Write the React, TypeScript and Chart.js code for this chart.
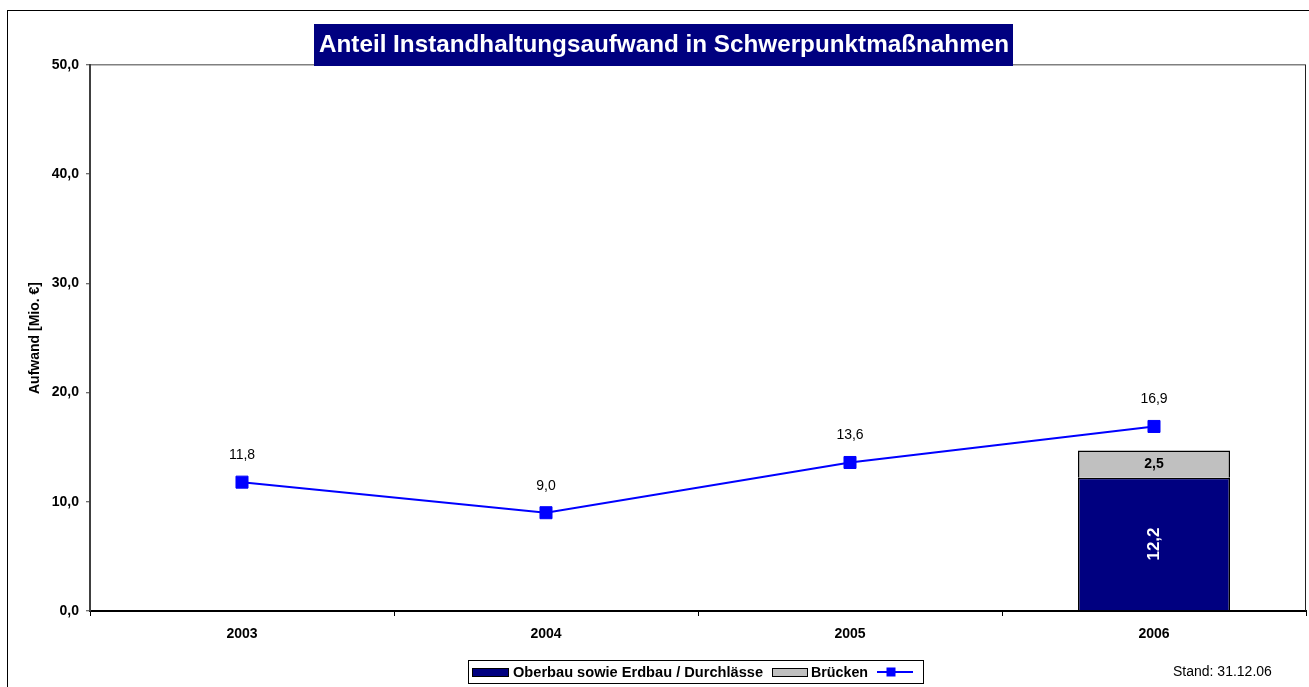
import React, { useEffect, useRef } from "react";
import { Chart, registerables } from "chart.js";

Chart.register(...registerables);

const categories = ["2003", "2004", "2005", "2006"];
const oberbauValues = [null, null, null, 12.2];
const brueckenValues = [null, null, null, 2.5];
const gesamtValues = [11.8, 9.0, 13.6, 16.9];
const yTickValues = [0, 10, 20, 30, 40, 50];

const titleText = "Anteil Instandhaltungsaufwand in Schwerpunktmaßnahmen";
const yAxisTitle = "Aufwand [Mio. €]";
const legendLabels = ["Oberbau sowie Erdbau / Durchlässe", "Brücken"];
const standText = "Stand: 31.12.06";

const FONT = '"Liberation Sans", Arial, Helvetica, sans-serif';
const NAVY = "#000080";
const GRAY = "#C0C0C0";
const BLUE = "#0000FF";

const fmt = (v: number) => v.toFixed(1).replace(".", ",");

function fitText(ctx: any, text: string, x: number, y: number, target: number) {
  const w = ctx.measureText(text).width;
  ctx.save();
  ctx.translate(x, y);
  ctx.scale(target / w, 1);
  ctx.fillText(text, 0, 0);
  ctx.restore();
}

const decorPlugin = {
  id: "decor",
  afterDatasetsDraw(chart: any) {
    const ctx = chart.ctx;
    ctx.save();
    const lineMeta = chart.getDatasetMeta(2);
    ctx.font = `14px ${FONT}`;
    ctx.fillStyle = "#000";
    ctx.textAlign = "center";
    ctx.textBaseline = "middle";
    lineMeta.data.forEach((pt: any, i: number) => {
      const v = gesamtValues[i];
      if (v == null) return;
      ctx.fillText(fmt(v), pt.x, pt.y - 27);
    });
    const m0 = chart.getDatasetMeta(0);
    m0.data.forEach((bar: any, i: number) => {
      const v = oberbauValues[i];
      if (v == null) return;
      const cy = (bar.y + bar.base) / 2;
      ctx.save();
      ctx.translate(bar.x, cy);
      ctx.rotate(-Math.PI / 2);
      ctx.font = `bold 17px ${FONT}`;
      ctx.fillStyle = "#fff";
      ctx.fillText(fmt(v), 0, 0);
      ctx.restore();
    });
    const m1 = chart.getDatasetMeta(1);
    m1.data.forEach((bar: any, i: number) => {
      const v = brueckenValues[i];
      if (v == null) return;
      const cy = (bar.y + bar.base) / 2;
      ctx.font = `bold 14px ${FONT}`;
      ctx.fillStyle = "#000";
      ctx.fillText(fmt(v), bar.x, cy);
    });
    ctx.restore();
  },
  afterDraw(chart: any) {
    const ctx = chart.ctx;
    const area = chart.chartArea;
    ctx.save();
    ctx.strokeStyle = "#000";
    ctx.lineWidth = 1;
    ctx.strokeRect(7.5, 10.5, 1400, 800);
    ctx.strokeStyle = "#202020";
    ctx.beginPath();
    ctx.moveTo(Math.round(area.right) - 0.5, area.top);
    ctx.lineTo(Math.round(area.right) - 0.5, area.bottom);
    ctx.stroke();

    // title box
    ctx.fillStyle = NAVY;
    ctx.fillRect(314, 24, 699, 42);
    ctx.font = `bold 24px ${FONT}`;
    ctx.fillStyle = "#fff";
    ctx.textAlign = "left";
    ctx.textBaseline = "middle";
    fitText(ctx, titleText, 319, 45, 690);

    // y axis title
    ctx.save();
    ctx.translate(35, (area.top + area.bottom) / 2);
    ctx.rotate(-Math.PI / 2);
    ctx.font = `bold 14px ${FONT}`;
    ctx.fillStyle = "#000";
    ctx.textAlign = "center";
    ctx.textBaseline = "middle";
    ctx.fillText(yAxisTitle, 0, 0);
    ctx.restore();

    // legend
    ctx.strokeStyle = "#000";
    ctx.lineWidth = 1;
    ctx.strokeRect(468.5, 660.5, 455, 23);
    ctx.fillStyle = NAVY;
    ctx.fillRect(472.5, 668.5, 36, 8);
    ctx.strokeRect(472.5, 668.5, 36, 8);
    ctx.font = `bold 14.6px ${FONT}`;
    ctx.fillStyle = "#000";
    ctx.textAlign = "left";
    ctx.textBaseline = "middle";
    fitText(ctx, legendLabels[0], 513, 673, 250);
    ctx.fillStyle = GRAY;
    ctx.fillRect(772.5, 668.5, 35, 8);
    ctx.strokeRect(772.5, 668.5, 35, 8);
    ctx.fillStyle = "#000";
    fitText(ctx, legendLabels[1], 811, 673, 57);
    ctx.strokeStyle = BLUE;
    ctx.lineWidth = 2;
    ctx.beginPath();
    ctx.moveTo(877, 672);
    ctx.lineTo(913, 672);
    ctx.stroke();
    ctx.fillStyle = BLUE;
    ctx.fillRect(891 - 4.5, 672 - 4.5, 9, 9);

    ctx.font = `14px ${FONT}`;
    ctx.fillStyle = "#000";
    ctx.fillText(standText, 1173, 672);
    ctx.restore();
  },
};

export default function App() {
  const ref = useRef<HTMLCanvasElement | null>(null);
  useEffect(() => {
    document.body.style.margin = "0";
    const canvas = ref.current;
    if (!canvas) return;
    const chart = new Chart(canvas, {
      type: "bar",
      data: {
        labels: categories,
        datasets: [
          {
            type: "bar",
            label: legendLabels[0],
            data: oberbauValues as any,
            backgroundColor: NAVY,
            borderColor: "#000",
            borderWidth: 1.5,
            stack: "bars",
            order: 1,
            barPercentage: 0.5,
            categoryPercentage: 1,
          },
          {
            type: "bar",
            label: legendLabels[1],
            data: brueckenValues as any,
            backgroundColor: GRAY,
            borderColor: "#000",
            borderWidth: 1.5,
            stack: "bars",
            order: 1,
            barPercentage: 0.5,
            categoryPercentage: 1,
          },
          {
            type: "line",
            label: "Gesamt",
            data: gesamtValues,
            borderColor: BLUE,
            backgroundColor: BLUE,
            borderWidth: 2,
            pointStyle: "rect",
            pointRadius: 8.5,
            pointBorderWidth: 1,
            pointBackgroundColor: BLUE,
            pointBorderColor: BLUE,
            tension: 0,
            stack: "line",
            order: 0,
          } as any,
        ],
      },
      options: {
        responsive: false,
        animation: false,
        devicePixelRatio: 1,
        layout: { autoPadding: false, padding: { left: 0, top: 65, right: 3, bottom: 0 } },
        plugins: {
          legend: { display: false },
          title: { display: false },
          tooltip: { enabled: false },
        },
        scales: {
          x: {
            type: "category",
            stacked: true,
            offset: true,
            grid: {
              offset: true,
              drawOnChartArea: false,
              drawTicks: true,
              tickLength: 5,
              tickColor: "#000",
              tickWidth: 1,
            },
            border: { color: "#000", width: 2 },
            ticks: {
              color: "#000",
              font: { family: FONT, size: 14, weight: "bold" },
              padding: 10,
              maxRotation: 0,
            },
            afterFit: (s: any) => {
              s.height = 76;
              s.paddingLeft = 0;
              s.paddingRight = 0;
            },
          },
          y: {
            type: "linear",
            stacked: true,
            min: 0,
            max: 50,
            afterBuildTicks: (s: any) => {
              s.ticks = yTickValues.map((v) => ({ value: v }));
            },
            grid: {
              color: (c: any) => (c.tick && c.tick.value === 50 ? "#808080" : "rgba(0,0,0,0)"),
              lineWidth: 1.5,
              tickLength: 4,
              tickColor: "#404040",
              tickWidth: 1,
            },
            border: { color: "#404040", width: 2 },
            ticks: {
              color: "#000",
              font: { family: FONT, size: 14, weight: "bold" },
              padding: 7,
              callback: (v: any) => fmt(Number(v)),
            },
            afterFit: (s: any) => {
              s.width = 90;
            },
          },
        },
      },
      plugins: [decorPlugin],
    });
    return () => chart.destroy();
  }, []);
  return (
    <div style={{ position: "absolute", left: 0, top: 0, width: 1309, height: 687, background: "#fff" }}>
      <canvas ref={ref} width={1309} height={687} style={{ display: "block" }} />
    </div>
  );
}
